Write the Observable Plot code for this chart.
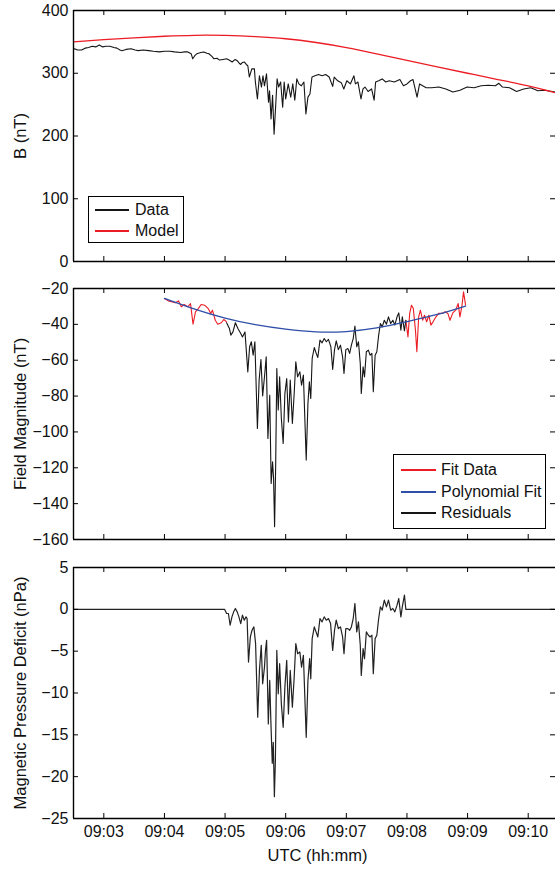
<!DOCTYPE html>
<html><head><meta charset="utf-8">
<script src="https://cdn.jsdelivr.net/npm/d3@7"></script>
<script src="https://cdn.jsdelivr.net/npm/@observablehq/plot@0.6"></script>
<style>
html,body{margin:0;padding:0;background:#fff;}
#wrap{position:relative;width:555px;height:871px;overflow:hidden;}
#wrap svg{display:block;}
.legend{position:absolute;box-sizing:border-box;border:1.3px solid #000;background:#fff;font-family:'Liberation Sans',Arial,Helvetica,sans-serif;font-size:16px;color:#111;}
.legend .ln{position:absolute;height:0;border-top:2px solid #000;}
.legend .tx{position:absolute;line-height:18px;white-space:nowrap;}
</style></head><body><div id="wrap"></div>
<script>
// ---------- x axis (seconds after 09:00:00 UTC) ----------
const xDomain = [150, 627];
const xTicks = [180, 240, 300, 360, 420, 480, 540, 600];
const xTickLabels = ["09:03", "09:04", "09:05", "09:06", "09:07", "09:08", "09:09", "09:10"];

// ---------- Panel 1: B (nT) ----------
const p1Ticks = [0, 100, 200, 300, 400];
const dataT = [150,151,154,158,161.5,165,168.5,172,175.5,179,182,186,190,193,196,198,202,207,211,214,219,224.5,229,235,240,245.5,250,256,260,263,266.5,268,270,272,276,279,282,284,287,289,292,294.5,298,301.5,304,307,310,312,314,315.5,317,319,321,322.5,324,326.5,329,330,332,334,336,337.5,339,341,343,344,345.5,347,348.5,350,351.5,353,355,357,358.5,360,362.5,365,367,369,371,373,375.5,378,380,382,384,386,389,392.5,396,399.5,403,406.5,408,411.5,415,417.5,420.5,424,427.5,429,431.5,434.5,436.5,438.5,441.5,445,447.5,449,452,455.5,459,462.5,467.5,473,476.5,480,483.5,486,490,492.5,495.5,499,504.5,511.5,518.5,525.5,532.5,539.5,546.5,553.5,560.5,567.5,571,574.5,581.5,588.5,595.5,602.5,609.5,616.5,623.5,627];
const dataB = [338,339,337,337,340,341,343,342,345,342,343,343,341,340,337,336,338,339,337,336,337,336,335,334,335,335,334,333,334,334,331,323,328,331,333,334,332,331,327,323,324,321,322,323,321,318,322,320,316,314,317,318,314,312,294,307,307,286,259,296,278,296,280,299,254,272,227,265,203,246,291,278,286,246,286,259,283,262,283,257,291,283,280,286,235,262,267,294,296,298,296,298,294,279,294,288,285,275,288,283,296,283,286,259,275,278,271,275,257,286,288,291,286,288,286,290,280,283,288,290,262,283,280,277,277,278,275,270,273,278,277,280,281,280,284,278,277,271,275,277,272,273,271,270];
const modelT = [150,180,210,240,270,300,330,360,390,420,450,480,510,540,570,600,627];
const modelB = [350,353.5,356.5,359,360.5,360.3,358.5,355,349,341,331,320.5,310,300,290,280,269];

// ---------- Panel 2: Field Magnitude (nT) ----------
const p2Ticks = [-160, -140, -120, -100, -80, -60, -40, -20];
const fitEarlyT = [240,243.8,247,250.8,254,256.7,259.5,263,265.8,268.3,270.7,273.5,276.3,279.8,283.3,285.8,287.5,290.3,292.8,296.3,298.7,301.5];
const fitEarlyV = [-25.6,-26.9,-27.4,-28,-26.9,-30.2,-28.9,-30.2,-28.4,-39.9,-33,-31.2,-28.9,-29.3,-31.2,-34,-32.1,-37.7,-39.9,-39.1,-37.3,-38.6];
const residT = [301.5,304.3,305.7,307.8,310.2,312.7,315.5,317.2,319.7,322.5,324.3,326,327.8,329.5,332,333.7,335.5,337.2,339.3,340.7,342.4,344.2,345.6,347,348,349,350.1,351.2,352.6,354,355.7,357.5,359.2,361,362.7,364.5,366.6,368.3,370,371.8,374,375.7,377.5,380.3,382,383.4,384.8,386.2,388.3,390,391.8,393.9,396,398.1,400.2,402.3,404.7,406.5,408.3,410,412.1,414.2,416.3,417.7,419.5,421.5,423.3,425,426.8,428.5,430.3,432,433.8,434.8,436.6,438,439.8,441.8,443.6,445.3,446.7,448.5,450.2,452,453.7,455.5,457.6,459.7,461.7,463.9,466,468,470.2,471.9,474,475.4,477.5,478.9];
const residV = [-39.1,-42.3,-46,-44.2,-39.1,-42.3,-45.1,-47,-44.2,-66.5,-52.5,-49.7,-57.2,-49.7,-98.1,-71.1,-59.6,-80,-67.4,-58.1,-103.6,-79.5,-128.7,-116.7,-126,-152.9,-117.6,-64.6,-87.8,-69.3,-92.5,-106.4,-78.6,-70.2,-94.4,-71.1,-95.3,-79.5,-60.9,-69.3,-66.5,-73.9,-68.3,-115.7,-84.2,-72,-81.3,-59,-52.9,-55.9,-58.5,-48.8,-50.3,-47.9,-49.7,-48.4,-52.5,-65.2,-54.1,-49.2,-54.1,-51.6,-58.1,-67.4,-54.1,-53.5,-56.2,-51.6,-47.9,-41,-52.5,-49.7,-61.8,-78.6,-63.7,-69.3,-55.3,-54.4,-57.2,-56.2,-77.6,-57.2,-55.3,-46,-39.5,-41.4,-37.7,-39.9,-35.8,-39.5,-37.7,-40.4,-35.8,-33.6,-43.2,-35.8,-43.6,-37.7];
const fitLateT = [478.9,481,482.7,484.5,486.3,488.4,489.8,491.6,493.3,495.5,497.4,499.5,501.7,503.7,505.8,508.7,511.4,515,517.7,520.5,522.6,525.4,528.2,530.7,532.4,534.3,536,538];
const fitLateV = [-37.7,-47,-33.9,-29.3,-31.2,-43.2,-55.3,-35.8,-32.1,-37.7,-34.9,-38.6,-34.9,-40.4,-38.6,-35.8,-33.9,-33.9,-33,-33.9,-37.7,-33.6,-32.1,-28.4,-35.8,-30.2,-21.9,-29.3];
const polyT = [240,270,300,330,360,390,420,450,480,510,538];
const polyV = [-25.5,-31.5,-36.5,-40.2,-42.7,-44.2,-44.0,-42.0,-38.5,-34.5,-29.8];

// ---------- Panel 3: Magnetic Pressure Deficit (nPa) ----------
const p3Ticks = [-25, -20, -15, -10, -5, 0, 5];
const deficitT = [150,299.5,301.5,303.3,305,306.8,308.5,310.2,312,313.7,315.5,317.2,319,320.7,321.8,323.2,325,326.7,328.5,330.2,332.3,334,335.8,337.2,339,340,341.1,342.8,344.2,345.3,346.7,347.7,348.8,349.8,351.2,352.6,354,355.7,357.5,359.2,361,362.7,364.5,366.6,368.3,370,371.8,374,375.7,377.5,380.3,382,383.7,384.8,386.2,388.3,390,391.8,393.9,396,398.1,400.2,402.3,404.4,406.5,408.3,410,412.1,414.2,416.3,417.7,419.5,421.5,423.3,425,426.8,428.5,430.3,432,433.8,434.8,436.6,438,439.8,441.8,443.6,445.3,446.7,448.5,450.2,452,453.7,455.5,457.6,459.7,461.7,463.9,466,468,470.2,471.9,474,475.4,477.5,478.9,627];
const deficitV = [0,0,-0.5,-0.5,-1.9,-0.9,-0.3,0.1,-0.3,-0.9,-1.7,-0.7,-1.3,-0.9,-1.1,-6.3,-3.3,-2.5,-2.1,-4.1,-12.9,-7.3,-4.3,-8.9,-6.9,-4.9,-3.7,-13.7,-8.5,-13.3,-18.4,-15.9,-22.4,-18,-4.9,-10.1,-6.5,-11.3,-14.1,-9.3,-6.1,-12.5,-7.3,-11.7,-8.3,-4.1,-5.3,-5.1,-6.9,-5.5,-15.3,-8.5,-5.9,-8.3,-3.5,-2.1,-2.7,-3.3,-1.1,-1.5,-0.9,-1.3,-1.1,-1.7,-4.9,-2.5,-1.3,-2.3,-2.1,-3.3,-5.3,-2.3,-2.3,-2.5,-2.1,-1.1,0.7,-2.7,-1.5,-4.3,-7.9,-4.7,-5.9,-2.7,-3.1,-3.3,-3.1,-7.7,-3.5,-3.1,-1.1,0.3,-0.1,1.1,0.3,1.1,-0.1,0.1,-0.3,0.5,1.3,-0.9,0.3,1.7,0,0];

// ---------- styling ----------
const FONT = "'Liberation Sans', Arial, Helvetica, sans-serif";
const W = 555, ML = 73, MR = 0, PH = 251, TICK = 5;
const RED = "#ec1c24", BLUE = "#2e4ea8", BLACK = "#151515";

const zip = (t, v) => t.map((d, i) => ({t: d, v: v[i]}));

function framing(yDomain, yTicks) {
  const pw = W - ML - MR;
  const ax = {stroke: "#000", strokeWidth: 1};
  return [
    Plot.axisY(yTicks, {anchor: "left", label: null, tickSize: 0, tickPadding: 5, fontSize: 16, fill: "#111"}),
    Plot.tickY(yTicks, {y: d => d, insetRight: pw - TICK, ...ax}),
    Plot.tickY(yTicks, {y: d => d, insetLeft: pw - TICK, ...ax}),
    Plot.tickX(xTicks, {x: d => d, insetBottom: PH - TICK, ...ax}),
    Plot.tickX(xTicks, {x: d => d, insetTop: PH - TICK, ...ax}),
    Plot.ruleX([xDomain[0]], {stroke: "#000", strokeWidth: 1.4}),
    Plot.ruleY([yDomain[0]], {stroke: "#000", strokeWidth: 1.4}),
    Plot.ruleY([yDomain[1]], {stroke: "#000", strokeWidth: 1.4})
  ];
}
function ylabel(text) {
  return Plot.text([text], {text: d => d, frameAnchor: "left", textAnchor: "middle", lineAnchor: "middle", rotate: -90, dx: -53, fontSize: 16.5, fill: "#111"});
}

function panel({marginTop, marginBottom, yDomain, yTicks, marks, xAxis}) {
  return Plot.plot({
    width: W, height: marginTop + PH + marginBottom,
    marginLeft: ML, marginRight: MR, marginTop, marginBottom,
    style: {fontFamily: FONT, fontSize: "16px", color: "#111", background: "transparent", overflow: "visible"},
    x: xAxis ? {domain: xDomain, label: null} : {domain: xDomain, axis: null},
    y: {domain: yDomain, label: null},
    marks: [...marks, ...framing(yDomain, yTicks)]
  });
}

const wrap = document.getElementById("wrap");

wrap.append(panel({
  marginTop: 10, marginBottom: 14, yDomain: [0, 400], yTicks: p1Ticks,
  marks: [
    Plot.line(zip(dataT, dataB), {x: "t", y: "v", stroke: BLACK, strokeWidth: 1.1}),
    Plot.line(zip(modelT, modelB), {x: "t", y: "v", stroke: RED, strokeWidth: 1.3, curve: "natural"}),
    ylabel("B (nT)")
  ]
}));

wrap.append(panel({
  marginTop: 13, marginBottom: 14, yDomain: [-160, -20], yTicks: p2Ticks,
  marks: [
    Plot.line(zip(fitEarlyT, fitEarlyV), {x: "t", y: "v", stroke: RED, strokeWidth: 1.1}),
    Plot.line(zip(fitLateT, fitLateV), {x: "t", y: "v", stroke: RED, strokeWidth: 1.1}),
    Plot.line(zip(residT, residV), {x: "t", y: "v", stroke: BLACK, strokeWidth: 1.1}),
    Plot.line(zip(polyT, polyV), {x: "t", y: "v", stroke: BLUE, strokeWidth: 1.3, curve: "natural"}),
    ylabel("Field Magnitude (nT)")
  ]
}));

wrap.append(panel({
  marginTop: 14, marginBottom: 53, yDomain: [-25, 5], yTicks: p3Ticks, xAxis: true,
  marks: [
    Plot.line(zip(deficitT, deficitV), {x: "t", y: "v", stroke: "#222", strokeWidth: 1.2}),
    Plot.axisX(xTicks, {anchor: "bottom", label: null, tickSize: 0, tickPadding: 7, fontSize: 16, fill: "#111", tickFormat: (d, i) => xTickLabels[i]}),
    Plot.text(["UTC (hh:mm)"], {text: d => d, frameAnchor: "bottom", textAnchor: "middle", dy: 42, dx: 3, fontSize: 16.5, fill: "#111"}),
    ylabel("Magnetic Pressure Deficit (nPa)")
  ]
}));

// ---------- legends (HTML overlays) ----------
function legend({left, top, width, height, items, rowTop, rowGap, lineX0, lineX1, textX}) {
  const box = document.createElement("div");
  box.className = "legend";
  Object.assign(box.style, {left: left + "px", top: top + "px", width: width + "px", height: height + "px"});
  items.forEach((it, i) => {
    const cy = rowTop + i * rowGap;
    const ln = document.createElement("div");
    ln.className = "ln";
    Object.assign(ln.style, {left: lineX0 + "px", width: (lineX1 - lineX0) + "px", top: (cy - 1) + "px", borderTopColor: it.color});
    const tx = document.createElement("div");
    tx.className = "tx";
    tx.textContent = it.label;
    Object.assign(tx.style, {left: textX + "px", top: (cy - 9) + "px"});
    box.append(ln, tx);
  });
  wrap.append(box);
}
legend({left: 88, top: 196, width: 96, height: 47, rowTop: 13, rowGap: 21, lineX0: 6, lineX1: 40, textX: 46,
  items: [{label: "Data", color: BLACK}, {label: "Model", color: RED}]});
legend({left: 393, top: 454, width: 153, height: 75, rowTop: 15, rowGap: 21.7, lineX0: 7, lineX1: 42, textX: 47,
  items: [{label: "Fit Data", color: RED}, {label: "Polynomial Fit", color: BLUE}, {label: "Residuals", color: BLACK}]});
</script></body></html>
